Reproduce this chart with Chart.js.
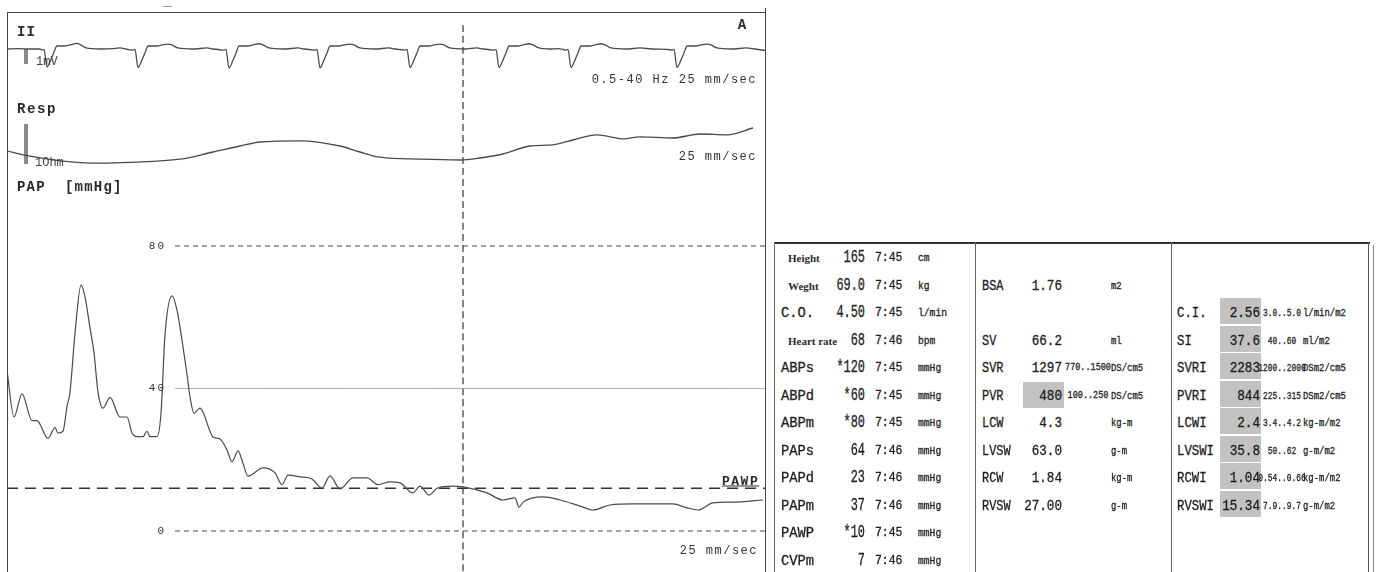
<!DOCTYPE html>
<html>
<head>
<meta charset="utf-8">
<script src="https://cdn.jsdelivr.net/npm/chart.js@4.4.1/dist/chart.umd.min.js"></script>
<style>
  body { margin: 0; width: 1380px; height: 572px; overflow: hidden; background: #fff; font-family: "Liberation Mono", monospace; color: #2a2a2a; position: relative; }
  .ln { position: absolute; background: #444; }
  .t { position: absolute; white-space: pre; line-height: 1; }
  .tb { -webkit-text-stroke: 0.3px #222; color: #1c1c1c; }
  .shade { position: absolute; background: #c2c2c2; }
  #trace { position: absolute; left: 7px; top: 12px; width: 758px; height: 560px; }
</style>
</head>
<body>
<div id="trace"><canvas id="chart"></canvas></div>
<script>
// x values are samples (100 Hz), y in each trace's own unit
const ecgPoints = [
  [7,0],[18,0.02],[30,0],[40,0],[42,-0.07],[44,-0.03],[47,-1.2],[51,-0.7],[54,-0.2],[57,0.2],[64,0.2],[70,0.27],[77,0.37],[81,0.27],[86,0.07],[100,0],[112,0.03],[120,0.07],[126,0],[130,-0.05],
  [133,-0.07],[135,-0.03],[138,-1.23],[142,-0.73],[145,-0.27],[148,0.2],[157,0.2],[162,0.27],[168,0.33],[172,0.27],[178,0.07],[193,0],[207,0.07],[213,0],[220,-0.05],
  [224,-0.07],[226,-0.03],[229,-1.27],[233,-0.75],[236,-0.27],[239,0.2],[248,0.2],[253,0.27],[259,0.35],[263,0.27],[269,0.07],[284,0],[298,0.07],[304,0],[311,-0.05],
  [315,-0.07],[317,-0.03],[320,-1.25],[324,-0.73],[327,-0.27],[330,0.2],[339,0.2],[344,0.27],[350,0.33],[354,0.27],[360,0.07],[375,0],[389,0.07],[395,0],[402,-0.05],
  [405,-0.07],[407,-0.03],[410,-1.23],[414,-0.73],[417,-0.27],[420,0.2],[429,0.2],[434,0.27],[440,0.33],[444,0.27],[450,0.07],[465,0],[477,0.07],[483,0],[490,-0.05],
  [494,-0.07],[496,-0.03],[499,-1.23],[503,-0.73],[506,-0.27],[509,0.2],[518,0.2],[523,0.27],[529,0.35],[533,0.27],[539,0.07],[550,0],[558,0.03],[564,-0.05],
  [566,-0.07],[568,-0.03],[571,-1.23],[575,-0.73],[578,-0.27],[581,0.2],[590,0.2],[595,0.27],[601,0.35],[605,0.27],[611,0.07],[626,0],[640,0.07],[652,0],[667,-0.03],
  [672,-0.07],[674,-0.03],[677,-1.23],[681,-0.73],[684,-0.27],[687,0.2],[696,0.2],[701,0.27],[707,0.33],[711,0.27],[717,0.07],[732,0],[746,0.07],[755,0],[765,-0.1]
]
const respPoints = [
  [7,-0.02],[25,-0.13],[60,-0.27],[100,-0.33],[130,-0.31],[180,-0.23],[213,-0.05],[240,0.1],[260,0.2],[300,0.23],
  [340,0.1],[360,-0.05],[380,-0.18],[420,-0.23],[460,-0.25],[480,-0.2],[503,-0.1],[530,0.1],[553,0.13],[573,0.25],
  [597,0.38],[610,0.33],[623,0.28],[640,0.33],[673,0.3],[700,0.4],[727,0.38],[753,0.55]
]
const papPoints = [
  [7,45],[14,32],[22,38.5],[32,31],[37,31],[48,26],[55,29],[58,27.5],[63,28],[67,35],[70,39],[75,55.5],[81,69],[85,65.7],[90,57],[94,50],[98,39],
  [103,34.5],[110,37.5],[120,32],[127,32],[132,27.5],[137,26.5],[143,26.5],[147,28],[150,26.5],[157,26.5],[161,33],[165,55],[172,66],[177,62],
  [183,51.7],[187,44],[190,37.7],[194,33],[200,34.5],[213,26.4],[220,25.8],[227,22.7],[232,19.4],[238,22.5],[243,19],[248,15.4],[263,17.7],
  [275,16.3],[282,13],[288,15.7],[300,15.2],[312,14.6],[322,12],[330,15.5],[340,11.8],[353,14.9],[367,14.9],[378,13],[390,13.8],[400,13.5],
  [413,10.7],[420,12.6],[429,10.1],[437,12],[453,12.6],[463,12.4],[487,10.7],[503,8.7],[515,9.3],[519,6.7],[523,8.1],[543,9.6],[560,8.7],
  [580,7],[593,5.9],[610,7.3],[633,7.6],[673,7.6],[687,6.5],[698,5.9],[713,7.9],[733,8.1],[763,8.7]
]
const papTicks = [0, 40, 80]
const pawpLevel = 12
const cursorAt = 463
const ecgCal = [0, -1]        // 1 mV
const respCal = [0.65, -0.35] // 1 Ohm

// table
const col1Labels = ['Height', 'Weght', 'C.O.', 'Heart rate', 'ABPs', 'ABPd', 'ABPm', 'PAPs', 'PAPd', 'PAPm', 'PAWP', 'CVPm']
const col1Values = ['165', '69.0', '4.50', '68', '*120', '*60', '*80', '64', '23', '37', '*10', '7']
const col1Times = ['7:45', '7:45', '7:45', '7:46', '7:45', '7:45', '7:45', '7:46', '7:46', '7:46', '7:45', '7:46']
const col1Units = ['cm', 'kg', 'l/min', 'bpm', 'mmHg', 'mmHg', 'mmHg', 'mmHg', 'mmHg', 'mmHg', 'mmHg', 'mmHg']
const col2Labels = [null, 'BSA', null, 'SV', 'SVR', 'PVR', 'LCW', 'LVSW', 'RCW', 'RVSW']
const col2Values = [null, '1.76', null, '66.2', '1297', '480', '4.3', '63.0', '1.84', '27.00']
const col2Ranges = [null, null, null, null, '770..1500', '100..250', null, null, null, null]
const col2Units = [null, 'm2', null, 'ml', 'DS/cm5', 'DS/cm5', 'kg-m', 'g-m', 'kg-m', 'g-m']
const col3Labels = [null, null, 'C.I.', 'SI', 'SVRI', 'PVRI', 'LCWI', 'LVSWI', 'RCWI', 'RVSWI']
const col3Values = [null, null, '2.56', '37.6', '2283', '844', '2.4', '35.8', '1.04', '15.34']
const col3Ranges = [null, null, '3.0..5.0', '40..60', '1200..2000', '225..315', '3.4..4.2', '50..62', '0.54..0.66', '7.9..9.7']
const col3Units = [null, null, 'l/min/m2', 'ml/m2', 'DSm2/cm5', 'DSm2/cm5', 'kg-m/m2', 'g-m/m2', 'kg-m/m2', 'g-m/m2']

function put(str, x, y, opts) {
  const o = Object.assign({ size: 12, sx: 1, align: 'left', weight: 'normal', ls: 0 }, opts)
  const el = document.createElement('span')
  el.className = o.table ? 't tb' : 't'
  el.textContent = str
  el.style.left = x + 'px'
  el.style.top = y + 'px'
  el.style.fontSize = o.size + 'px'
  el.style.fontWeight = o.weight
  if (o.family) el.style.fontFamily = o.family
  if (o.color) el.style.color = o.color
  if (o.ls) el.style.letterSpacing = o.ls + 'px'
  if (o.underline) el.style.textDecoration = 'underline'
  const tx = o.align === 'right' ? '-100%' : o.align === 'center' ? '-50%' : '0'
  el.style.transformOrigin = o.align === 'right' ? 'right center' : o.align === 'center' ? 'center center' : 'left center'
  el.style.transform = `translate(${tx}, -50%) scaleX(${o.sx})`
  document.body.appendChild(el)
}

function box(x, y, w, h, cls, color) {
  const el = document.createElement('div')
  el.className = cls
  el.style.left = x + 'px'
  el.style.top = y + 'px'
  el.style.width = w + 'px'
  el.style.height = h + 'px'
  if (color) el.style.background = color
  document.body.appendChild(el)
}

const toXY = pts => pts.map(p => ({ x: p[0], y: p[1] }))
const trace = { pointRadius: 0, borderColor: '#4a4a4a', borderWidth: 1.3, cubicInterpolationMode: 'monotone', fill: false }

const chart = new Chart(document.getElementById('chart'), {
  type: 'line',
  data: {
    datasets: [
      { ...trace, data: toXY(ecgPoints), yAxisID: 'yEcg' },
      { ...trace, data: toXY(respPoints), yAxisID: 'yResp' },
      { ...trace, data: toXY(papPoints), yAxisID: 'yPap', borderWidth: 1.2 },
      { ...trace, data: [{ x: 26, y: ecgCal[0] }, { x: 26, y: ecgCal[1] }], yAxisID: 'yEcg', borderColor: '#8a8a8a', borderWidth: 4 },
      { ...trace, data: [{ x: 26, y: respCal[0] }, { x: 26, y: respCal[1] }], yAxisID: 'yResp', borderColor: '#8a8a8a', borderWidth: 4 },
      { ...trace, data: [{ x: 175, y: papTicks[2] }, { x: 765, y: papTicks[2] }], yAxisID: 'yPap', borderWidth: 1, borderDash: [5, 4], borderColor: '#444' },
      { ...trace, data: [{ x: 175, y: papTicks[1] }, { x: 765, y: papTicks[1] }], yAxisID: 'yPap', borderWidth: 0.8, borderColor: '#9a9a9a' },
      { ...trace, data: [{ x: 175, y: papTicks[0] }, { x: 765, y: papTicks[0] }], yAxisID: 'yPap', borderWidth: 1, borderDash: [5, 4], borderColor: '#444' },
      { ...trace, data: [{ x: 7, y: pawpLevel }, { x: 765, y: pawpLevel }], yAxisID: 'yPap', borderWidth: 1.3, borderDash: [11, 7], borderColor: '#333' },
      { ...trace, data: [{ x: cursorAt, y: 142 }, { x: cursorAt, y: -11.5 }], yAxisID: 'yPap', borderWidth: 1.2, borderDash: [7, 4], borderColor: '#333' }
    ]
  },
  options: {
    responsive: true,
    maintainAspectRatio: false,
    animation: false,
    layout: { padding: 0 },
    plugins: { legend: { display: false }, tooltip: { enabled: false } },
    scales: {
      x: { type: 'linear', min: 7, max: 765, display: false },
      yEcg: { type: 'linear', min: -34.867, max: 2.467, display: false },
      yResp: { type: 'linear', min: -10.55, max: 3.45, display: false },
      yPap: { type: 'linear', min: -11.51, max: 145.68, display: false }
    }
  }
})

// panel frame
box(7, 12, 759, 1, 'ln')
box(7, 12, 1, 560, 'ln')
box(765, 8, 1, 564, 'ln')
box(163, 6, 9, 1, 'ln', '#999')

// PAP tick labels from the scale
const yPap = chart.scales.yPap
papTicks.forEach(v => {
  put(String(v), 166, 12 + yPap.getPixelForValue(v), { size: 11, align: 'right', ls: 2, color: '#333' })
})

put('II', 17, 32, { size: 14, weight: 'bold', ls: 1 })
put('1mV', 36, 62, { size: 12, color: '#444' })
put('Resp', 17, 109, { size: 14, weight: 'bold', ls: 1.6 })
put('1Ohm', 35, 163, { size: 12, color: '#444' })
put('PAP  [mmHg]', 17, 187, { size: 14, weight: 'bold', ls: 1.2 })
put('A', 742, 25, { size: 14, weight: 'bold', align: 'center' })
put('0.5-40 Hz 25 mm/sec', 757, 80, { size: 12, align: 'right', ls: 1.5, color: '#333' })
put('25 mm/sec', 757, 157, { size: 12, align: 'right', ls: 1.5, color: '#333' })
put('25 mm/sec', 758, 551, { size: 12, align: 'right', ls: 1.5, color: '#333' })
put('PAWP', 722, 481, { size: 13, weight: 'bold', ls: 1.5, underline: true })

// table frame
box(774, 242, 596, 2, 'ln', '#333')
box(774, 242, 1, 330, 'ln', '#666')
box(975, 242, 1, 330, 'ln', '#666')
box(1171, 242, 1, 330, 'ln', '#666')
box(1368, 242, 1, 330, 'ln', '#555')
box(1373, 245, 1, 327, 'ln', '#888')

const rowY = i => 258 + i * 27.5
const serifLabels = ['Height', 'Weght', 'Heart rate']
const outOfRange = (val, rng) => {
  if (!rng) return false
  const [lo, hi] = rng.split('..').map(Number)
  const v = Number(val)
  return v < lo || v > hi
}

col1Labels.forEach((lab, i) => {
  const y = rowY(i)
  if (serifLabels.includes(lab)) {
    put(lab, 788, y, { size: 11, weight: 'bold', family: '"Liberation Serif", serif' })
  } else {
    put(lab, 781, y, { size: 15, sx: 0.92, table: true })
  }
  put(col1Values[i], 865, y - 1, { size: 18, sx: 0.66, align: 'right', table: true })
  put(col1Times[i], 875, y, { size: 12, sx: 0.95, table: true })
  put(col1Units[i], 918, y, { size: 11, sx: 0.88, table: true })
})

col2Labels.forEach((lab, i) => {
  if (!lab) return
  const y = rowY(i)
  if (outOfRange(col2Values[i], col2Ranges[i])) box(1023, y - 14, 41, 26, 'shade')
  put(lab, 982, y, { size: 14, sx: 0.85, table: true })
  put(col2Values[i], 1062, y, { size: 14, sx: 0.9, align: 'right', table: true })
  if (col2Ranges[i]) put(col2Ranges[i], 1088, y, { size: 10, sx: 0.85, align: 'center', table: true })
  put(col2Units[i], 1111, y, { size: 10.5, sx: 0.85, table: true })
})

col3Labels.forEach((lab, i) => {
  if (!lab) return
  const y = rowY(i)
  if (outOfRange(col3Values[i], col3Ranges[i])) box(1220, y - 15, 41, 26, 'shade')
  put(lab, 1177, y, { size: 14, sx: 0.88, table: true })
  put(col3Values[i], 1260, y, { size: 14, sx: 0.9, align: 'right', table: true })
  put(col3Ranges[i], 1282, y, { size: 10.5, sx: 0.75, align: 'center', table: true })
  put(col3Units[i], 1303, y, { size: 10.5, sx: 0.85, table: true })
})
</script>
</body>
</html>
